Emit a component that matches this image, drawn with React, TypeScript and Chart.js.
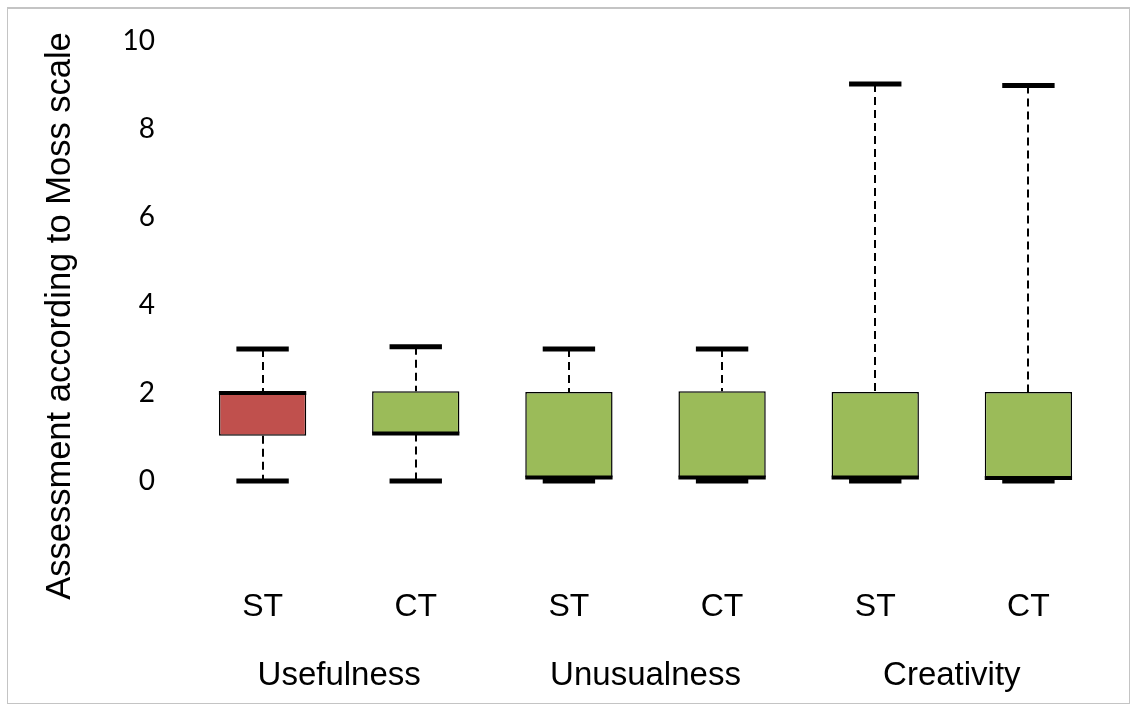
import React, { useEffect, useRef } from 'react';
import { Chart, registerables } from 'chart.js';

Chart.register(...registerables);

const categories = ['ST', 'CT', 'ST', 'CT', 'ST', 'CT'];
const groups = ['Usefulness', 'Unusualness', 'Creativity'];
const minValues = [0, 0, 0, 0, 0, 0];
const q1Values = [1.03, 1.08, 0.08, 0.08, 0.08, 0.07];
const medianValues = [2, 1.08, 0.08, 0.08, 0.08, 0.07];
const q3Values = [2, 2.04, 2.02, 2.04, 2.02, 2.02];
const maxValues = [3, 3.05, 3, 3, 9.02, 8.99];
const boxColors = ['#C0504D', '#9BBB59', '#9BBB59', '#9BBB59', '#9BBB59', '#9BBB59'];
const yTicks = [0, 2, 4, 6, 8, 10];
const yTitle = 'Assessment according to Moss scale';

const LABEL_FONT = '"Liberation Sans", Arial, sans-serif';
const TICK_FONT = 'Lato, "Open Sans", sans-serif';

const boxPlotPlugin = {
  id: 'boxplot',
  beforeDatasetsDraw(chart: any) {
    const ctx = chart.ctx;
    const y = chart.scales.y;
    const meta = chart.getDatasetMeta(0);
    ctx.save();
    ctx.strokeStyle = '#000';
    ctx.lineWidth = 2;
    ctx.setLineDash([8, 5]);
    meta.data.forEach((bar: any, i: number) => {
      const x = Math.round(bar.x);
      ctx.beginPath();
      ctx.moveTo(x, y.getPixelForValue(maxValues[i]));
      ctx.lineTo(x, y.getPixelForValue(q3Values[i]));
      ctx.stroke();
      ctx.beginPath();
      ctx.moveTo(x, y.getPixelForValue(q1Values[i]));
      ctx.lineTo(x, y.getPixelForValue(minValues[i]));
      ctx.stroke();
    });
    ctx.restore();
  },
  afterDatasetsDraw(chart: any) {
    const ctx = chart.ctx;
    const y = chart.scales.y;
    const meta = chart.getDatasetMeta(0);
    ctx.save();
    ctx.strokeStyle = '#000';
    ctx.setLineDash([]);
    meta.data.forEach((bar: any, i: number) => {
      const x = bar.x;
      const w = bar.width;
      const capW = w * 0.6;
      ctx.lineWidth = 5;
      [minValues[i], maxValues[i]].forEach((v) => {
        const py = y.getPixelForValue(v);
        ctx.beginPath();
        ctx.moveTo(x - capW / 2, py);
        ctx.lineTo(x + capW / 2, py);
        ctx.stroke();
      });
      ctx.lineWidth = 4;
      const my = y.getPixelForValue(medianValues[i]);
      ctx.beginPath();
      ctx.moveTo(x - w / 2, my);
      ctx.lineTo(x + w / 2, my);
      ctx.stroke();
    });
    ctx.restore();
  },
  afterDraw(chart: any) {
    const ctx = chart.ctx;
    ctx.save();
    ctx.translate(60, 316);
    ctx.rotate(-Math.PI / 2);
    ctx.font = `34.5px ${LABEL_FONT}`;
    ctx.fillStyle = '#000';
    ctx.textAlign = 'center';
    ctx.textBaseline = 'middle';
    ctx.fillText(yTitle, 0, 0);
    ctx.restore();
  },
};

const zeroHorizontalPadding = (axis: any, h: number) => {
  axis.height = h;
  axis.paddingLeft = 0;
  axis.paddingRight = 0;
  axis.paddingTop = 0;
  axis.paddingBottom = 0;
};

export default function App() {
  const canvasRef = useRef<HTMLCanvasElement | null>(null);

  useEffect(() => {
    if (!canvasRef.current) return;
    const chart = new Chart(canvasRef.current, {
      type: 'bar',
      data: {
        labels: categories,
        datasets: [
          {
            data: categories.map((_, i) => [q1Values[i], q3Values[i]]) as any,
            backgroundColor: boxColors,
            borderColor: '#000',
            borderWidth: 1.5,
            borderSkipped: false,
            barPercentage: 0.57,
            categoryPercentage: 1,
            xAxisID: 'x',
          },
        ],
      },
      options: {
        animation: false,
        responsive: false,
        events: [],
        layout: { autoPadding: false, padding: { left: 0, top: 41, right: 27, bottom: 11 } },
        plugins: { legend: { display: false }, tooltip: { enabled: false } },
        scales: {
          x: {
            type: 'category',
            position: 'bottom',
            weight: 0,
            grid: { display: false, drawTicks: false },
            border: { display: false },
            afterFit: (axis: any) => zeroHorizontalPadding(axis, 145),
            ticks: {
              padding: 107,
              color: '#000',
              font: { family: LABEL_FONT, size: 32 },
              maxRotation: 0,
              autoSkip: false,
            },
          },
          x2: {
            type: 'category',
            position: 'bottom',
            weight: 1,
            labels: groups,
            grid: { display: false, drawTicks: false },
            border: { display: false },
            afterFit: (axis: any) => zeroHorizontalPadding(axis, 70),
            ticks: {
              padding: 30,
              color: '#000',
              font: { family: LABEL_FONT, size: 33 },
              maxRotation: 0,
              autoSkip: false,
            },
          },
          y: {
            min: 0,
            max: 10,
            grid: { display: false, drawTicks: false },
            border: { display: false },
            afterBuildTicks: (axis: any) => {
              axis.ticks = yTicks.map((v) => ({ value: v }));
            },
            afterFit: (axis: any) => {
              axis.width = 186;
              axis.paddingTop = 0;
              axis.paddingBottom = 0;
              axis.paddingLeft = 0;
              axis.paddingRight = 0;
            },
            ticks: {
              padding: 31,
              color: '#000',
              font: { family: TICK_FONT, size: 28 },
            },
          },
        },
      },
      plugins: [boxPlotPlugin],
    });
    return () => chart.destroy();
  }, []);

  return (
    <div style={{ position: 'absolute', left: 0, top: 0, width: 1132, height: 707, background: '#fff' }}>
      <div
        style={{
          position: 'absolute',
          left: 7,
          top: 7,
          width: 1123,
          height: 697,
          border: '1px solid #c4c4c4',
          borderTopWidth: 2,
          boxSizing: 'border-box',
        }}
      />
      <canvas ref={canvasRef} width={1132} height={707} style={{ position: 'absolute', left: 0, top: 0 }} />
    </div>
  );
}
